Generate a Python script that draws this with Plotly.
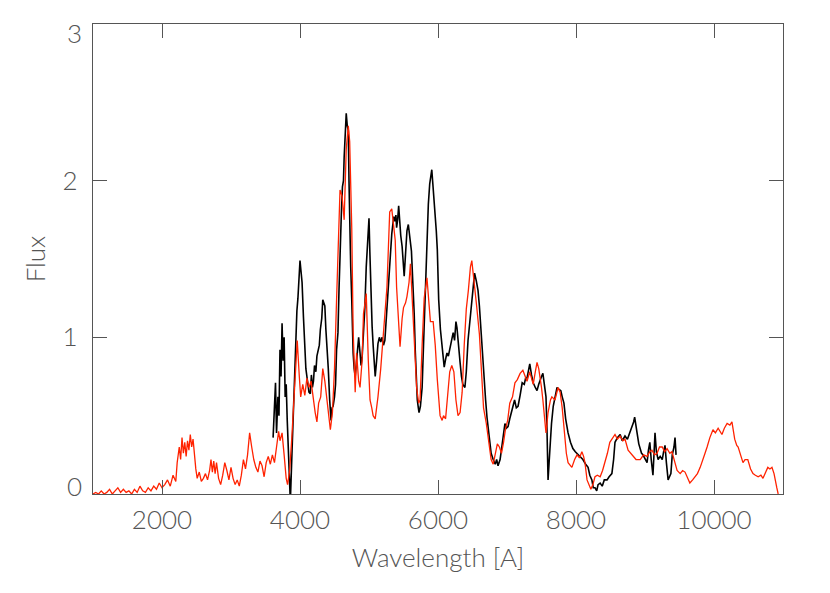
import plotly.graph_objects as go

# Red (model) spectrum: wavelength [A], flux
red_wave = [1000, 1040, 1080, 1120, 1160, 1200, 1240, 1280, 1320, 1360, 1400, 1440, 1480, 1520, 1560, 1600,
            1640, 1680, 1720, 1760, 1800, 1840, 1880, 1920, 1960, 2000, 2040, 2080, 2120, 2160, 2200, 2220,
            2250, 2270, 2290, 2310, 2330, 2350, 2370, 2390, 2410, 2430, 2450, 2470, 2490, 2510, 2540, 2570,
            2600, 2630, 2660, 2690, 2710, 2730, 2750, 2770, 2790, 2820, 2850, 2880, 2910, 2940, 2970, 3000,
            3030, 3060, 3090, 3120, 3150, 3180, 3210, 3240, 3270, 3300, 3330, 3360, 3390, 3420, 3450, 3480,
            3510, 3540, 3570, 3600, 3630, 3660, 3690, 3710, 3740, 3770, 3800, 3820, 3850, 3880, 3910, 3940,
            3960, 3990, 4010, 4040, 4070, 4100, 4130, 4160, 4190, 4220, 4245, 4270, 4300, 4330, 4360, 4390,
            4420, 4440, 4470, 4500, 4530, 4560, 4580, 4610, 4640, 4670, 4700, 4720, 4750, 4770, 4800, 4820,
            4850, 4870, 4900, 4920, 4960, 4990, 5015, 5040, 5060, 5090, 5130, 5170, 5200, 5230, 5260, 5300,
            5330, 5360, 5380, 5400, 5430, 5450, 5480, 5500, 5530, 5550, 5580, 5600, 5620, 5640, 5670, 5690,
            5720, 5740, 5770, 5800, 5840, 5870, 5890, 5930, 5960, 5990, 6010, 6030, 6060, 6080, 6110, 6140,
            6170, 6200, 6230, 6260, 6290, 6320, 6350, 6380, 6410, 6440, 6470, 6490, 6520, 6560, 6600, 6630,
            6660, 6700, 6740, 6770, 6800, 6830, 6860, 6890, 6920, 6950, 6980, 7010, 7040, 7080, 7115, 7150,
            7190, 7230, 7260, 7290, 7330, 7360, 7380, 7410, 7435, 7460, 7480, 7500, 7520, 7545, 7565, 7595,
            7630, 7650, 7695, 7740, 7770, 7800, 7820, 7840, 7860, 7885, 7920, 7940, 7980, 8015, 8050, 8085,
            8110, 8130, 8160, 8190, 8215, 8245, 8275, 8310, 8350, 8385, 8420, 8455, 8490, 8530, 8565, 8600,
            8640, 8680, 8710, 8755, 8790, 8825, 8870, 8930, 8980, 9030, 9070, 9100, 9140, 9175, 9210, 9250,
            9285, 9320, 9360, 9390, 9430, 9465, 9510, 9545, 9580, 9615, 9650, 9690, 9725, 9760, 9800, 9835,
            9870, 9900, 9940, 9985, 10020, 10060, 10090, 10115, 10150, 10190, 10230, 10260, 10300, 10330, 10350, 10390,
            10420, 10450, 10490, 10530, 10565, 10600, 10640, 10680, 10710, 10750, 10780, 10810, 10840, 10870, 10885, 10910,
            10930, 10960]
red_flux = [0.00, 0.01, 0.00, 0.02, 0.00, 0.01, 0.03, 0.00, 0.02, 0.04, 0.01, 0.03, 0.01, 0.02, 0.00, 0.03,
            0.01, 0.05, 0.02, 0.01, 0.04, 0.02, 0.05, 0.03, 0.07, 0.04, 0.06, 0.09, 0.05, 0.12, 0.08, 0.20,
            0.30, 0.22, 0.36, 0.26, 0.33, 0.24, 0.34, 0.28, 0.38, 0.30, 0.35, 0.22, 0.16, 0.10, 0.14, 0.08,
            0.10, 0.13, 0.09, 0.15, 0.22, 0.14, 0.21, 0.13, 0.20, 0.10, 0.06, 0.12, 0.20, 0.15, 0.09, 0.17,
            0.10, 0.06, 0.09, 0.05, 0.12, 0.22, 0.16, 0.25, 0.39, 0.30, 0.22, 0.17, 0.14, 0.21, 0.18, 0.11,
            0.20, 0.24, 0.19, 0.25, 0.20, 0.30, 0.40, 0.34, 0.39, 0.25, 0.10, 0.06, 0.15, 0.35, 0.60, 0.85,
            0.98, 0.75, 0.62, 0.70, 0.63, 0.74, 0.68, 0.72, 0.60, 0.52, 0.46, 0.58, 0.62, 0.80, 0.72, 0.60,
            0.50, 0.41, 0.52, 0.80, 1.24, 1.60, 1.94, 1.90, 1.75, 2.20, 2.35, 2.25, 1.70, 1.05, 0.65, 0.90,
            0.72, 0.68, 0.85, 1.15, 1.28, 0.85, 0.60, 0.55, 0.50, 0.48, 0.62, 0.80, 0.98, 1.20, 1.32, 1.80,
            1.82, 1.70, 1.62, 1.32, 1.05, 0.94, 1.12, 1.19, 1.22, 1.26, 1.35, 1.47, 1.30, 1.13, 0.90, 0.68,
            0.58, 0.60, 0.95, 1.25, 1.38, 1.20, 1.10, 1.10, 0.95, 0.73, 0.60, 0.50, 0.47, 0.50, 0.48, 0.62,
            0.78, 0.82, 0.78, 0.60, 0.50, 0.52, 0.65, 0.95, 1.18, 1.30, 1.45, 1.49, 1.38, 1.20, 1.02, 0.80,
            0.55, 0.45, 0.30, 0.22, 0.19, 0.25, 0.32, 0.30, 0.26, 0.33, 0.42, 0.47, 0.58, 0.62, 0.71, 0.73,
            0.77, 0.79, 0.75, 0.72, 0.78, 0.74, 0.70, 0.78, 0.84, 0.80, 0.75, 0.68, 0.60, 0.45, 0.39, 0.52,
            0.60, 0.62, 0.60, 0.68, 0.65, 0.55, 0.45, 0.33, 0.26, 0.20, 0.18, 0.17, 0.22, 0.25, 0.23, 0.27,
            0.24, 0.20, 0.09, 0.05, 0.03, 0.06, 0.11, 0.12, 0.11, 0.15, 0.20, 0.26, 0.33, 0.36, 0.38, 0.35,
            0.37, 0.34, 0.35, 0.28, 0.26, 0.24, 0.22, 0.22, 0.25, 0.24, 0.27, 0.28, 0.25, 0.26, 0.30, 0.30,
            0.27, 0.29, 0.26, 0.27, 0.21, 0.15, 0.13, 0.15, 0.14, 0.10, 0.07, 0.09, 0.11, 0.13, 0.17, 0.21,
            0.26, 0.30, 0.36, 0.41, 0.39, 0.42, 0.40, 0.38, 0.42, 0.45, 0.44, 0.46, 0.35, 0.31, 0.30, 0.24,
            0.20, 0.22, 0.22, 0.16, 0.13, 0.12, 0.11, 0.12, 0.10, 0.14, 0.17, 0.16, 0.17, 0.13, 0.09, 0.04,
            0.00, -0.05]

# Black (observed) spectrum
black_wave = [3610, 3630, 3645, 3660, 3680, 3695, 3710, 3725, 3740, 3755, 3770, 3785, 3800, 3815, 3835, 3860,
              3885, 3900, 3915, 3930, 3945, 3955, 3970, 3985, 4000, 4015, 4030, 4050, 4070, 4085, 4100, 4115,
              4130, 4150, 4165, 4180, 4195, 4210, 4230, 4245, 4265, 4280, 4295, 4315, 4330, 4345, 4360, 4375,
              4390, 4410, 4430, 4450, 4465, 4480, 4500, 4515, 4530, 4550, 4565, 4580, 4600, 4615, 4630, 4640,
              4655, 4670, 4685, 4700, 4710, 4720, 4735, 4750, 4760, 4770, 4785, 4800, 4810, 4820, 4835, 4850,
              4870, 4885, 4900, 4920, 4940, 4960, 4980, 5000, 5012, 5025, 5045, 5060, 5075, 5090, 5110, 5130,
              5150, 5170, 5190, 5210, 5230, 5255, 5280, 5300, 5315, 5330, 5345, 5360, 5375, 5390, 5400, 5415,
              5430, 5445, 5460, 5480, 5495, 5510, 5525, 5540, 5550, 5570, 5585, 5600, 5615, 5625, 5640, 5655,
              5670, 5685, 5700, 5715, 5725, 5745, 5770, 5790, 5810, 5825, 5840, 5860, 5880, 5895, 5910, 5925,
              5940, 5960, 5975, 5990, 6010, 6035, 6060, 6075, 6090, 6110, 6130, 6150, 6170, 6190, 6220, 6240,
              6260, 6275, 6290, 6305, 6320, 6340, 6360, 6390, 6410, 6435, 6460, 6490, 6510, 6530, 6555, 6580,
              6600, 6620, 6640, 6670, 6690, 6710, 6740, 6770, 6800, 6830, 6850, 6870, 6900, 6920, 6950, 6970,
              6990, 7015, 7040, 7060, 7090, 7110, 7135, 7160, 7190, 7220, 7250, 7270, 7290, 7310, 7330, 7355,
              7380, 7410, 7435, 7460, 7480, 7500, 7520, 7545, 7565, 7580, 7595, 7610, 7620, 7645, 7670, 7700,
              7725, 7750, 7780, 7800, 7825, 7850, 7870, 7885, 7920, 7955, 7990, 8030, 8060, 8100, 8140, 8175,
              8200, 8230, 8250, 8275, 8300, 8320, 8350, 8380, 8410, 8450, 8480, 8520, 8545, 8565, 8600, 8640,
              8670, 8710, 8745, 8780, 8810, 8835, 8850, 8870, 8885, 8910, 8930, 8950, 8970, 9000, 9030, 9050,
              9070, 9090, 9115, 9130, 9145, 9165, 9190, 9220, 9250, 9270, 9290, 9310, 9335, 9355, 9375, 9395,
              9420, 9435, 9450]
black_flux = [0.36, 0.55, 0.71, 0.39, 0.62, 0.50, 0.92, 0.75, 1.09, 0.85, 1.00, 0.62, 0.70, 0.47, 0.15, -0.05,
              0.28, 0.47, 0.70, 0.90, 1.05, 1.17, 1.25, 1.38, 1.49, 1.42, 1.35, 1.13, 0.90, 0.80, 0.75, 0.70,
              0.65, 0.64, 0.76, 0.68, 0.72, 0.82, 0.78, 0.88, 0.92, 0.95, 1.05, 1.12, 1.24, 1.22, 1.20, 1.05,
              0.96, 0.80, 0.60, 0.47, 0.55, 0.56, 0.62, 0.70, 0.92, 1.03, 1.30, 1.56, 1.80, 1.96, 2.00, 2.15,
              2.30, 2.43, 2.35, 2.32, 2.00, 1.70, 1.45, 1.24, 1.05, 0.90, 0.80, 0.75, 0.80, 0.85, 0.95, 1.00,
              0.90, 0.82, 0.87, 1.00, 1.19, 1.45, 1.66, 1.76, 1.55, 1.32, 1.07, 0.95, 0.85, 0.75, 0.85, 0.96,
              1.00, 0.97, 1.00, 0.95, 0.98, 1.15, 1.37, 1.50, 1.60, 1.66, 1.72, 1.77, 1.74, 1.78, 1.70, 1.75,
              1.84, 1.72, 1.65, 1.58, 1.50, 1.39, 1.50, 1.62, 1.68, 1.72, 1.65, 1.60, 1.55, 1.45, 1.32, 1.15,
              0.92, 0.75, 0.60, 0.55, 0.52, 0.56, 0.68, 0.95, 1.24, 1.45, 1.66, 1.85, 1.98, 2.03, 2.07, 1.98,
              1.90, 1.80, 1.68, 1.56, 1.24, 1.05, 0.94, 0.88, 0.81, 0.86, 0.90, 0.88, 0.93, 0.96, 1.03, 0.98,
              1.10, 1.06, 1.00, 0.92, 0.84, 0.75, 0.70, 0.68, 0.78, 0.98, 1.10, 1.24, 1.35, 1.41, 1.36, 1.30,
              1.20, 1.05, 0.92, 0.75, 0.60, 0.49, 0.35, 0.26, 0.22, 0.19, 0.22, 0.18, 0.22, 0.28, 0.38, 0.45,
              0.42, 0.43, 0.48, 0.52, 0.58, 0.60, 0.55, 0.56, 0.63, 0.71, 0.70, 0.74, 0.74, 0.78, 0.83, 0.76,
              0.71, 0.68, 0.66, 0.70, 0.73, 0.75, 0.77, 0.70, 0.62, 0.40, 0.09, 0.20, 0.28, 0.45, 0.56, 0.64,
              0.68, 0.67, 0.66, 0.62, 0.58, 0.48, 0.42, 0.39, 0.33, 0.29, 0.27, 0.25, 0.24, 0.22, 0.19, 0.17,
              0.12, 0.09, 0.04, 0.04, 0.02, 0.06, 0.07, 0.05, 0.09, 0.09, 0.11, 0.13, 0.22, 0.33, 0.36, 0.38,
              0.34, 0.37, 0.35, 0.39, 0.42, 0.46, 0.49, 0.42, 0.39, 0.32, 0.28, 0.26, 0.25, 0.22, 0.20, 0.28,
              0.33, 0.22, 0.12, 0.25, 0.39, 0.27, 0.22, 0.24, 0.22, 0.27, 0.31, 0.20, 0.09, 0.11, 0.13, 0.25,
              0.30, 0.36, 0.25]

x_ticks = [2000, 4000, 6000, 8000, 10000]
y_ticks = [0, 1, 2, 3]
y_ticklabels = ["", "1", "2", ""]   # end labels "0" and "3" are nudged inward, as in the original
y_end_labels = [("0", 0, 8), ("3", 3, -9)]

FONT = "Lato"
GREY = "#555555"
TXT = dict(family=FONT, size=26, color=GREY, weight=300)

fig = go.Figure()
fig.add_trace(go.Scatter(x=black_wave, y=black_flux, mode="lines",
                         line=dict(color="#000000", width=1.6), showlegend=False))
fig.add_trace(go.Scatter(x=red_wave, y=red_flux, mode="lines",
                         line=dict(color="#ff2200", width=1.3), showlegend=False))

axis_common = dict(showgrid=False, zeroline=False, showline=True, linecolor=GREY, linewidth=1.2,
                   mirror="ticks", ticks="inside", ticklen=14, tickcolor=GREY, tickwidth=1.2,
                   tickfont=TXT, ticklabeloverflow="allow")

fig.update_layout(
    width=822, height=585,
    margin=dict(l=85, r=47, t=16, b=99),
    paper_bgcolor="white", plot_bgcolor="white",
    xaxis=dict(range=[1000, 11000], tickvals=x_ticks, ticktext=[str(v) for v in x_ticks],
               ticklabelstandoff=3,
               title=dict(text="Wavelength [A]", font=TXT, standoff=14),
               **axis_common),
    yaxis=dict(range=[0, 3], tickvals=y_ticks, ticktext=y_ticklabels,
               ticklabelstandoff=9,
               title=dict(text="Flux", font=TXT, standoff=9),
               **axis_common),
)
for txt, yv, shift in y_end_labels:
    fig.add_annotation(text=txt, xref="paper", yref="y", x=0, y=yv, xanchor="right",
                       yanchor="middle", xshift=-9, yshift=shift, showarrow=False, font=TXT)

fig.write_html("out.html")
